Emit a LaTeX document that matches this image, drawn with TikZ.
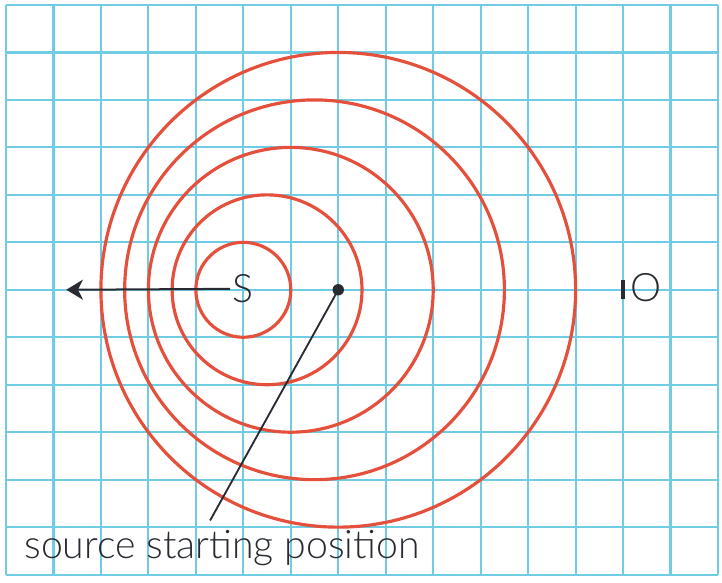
\documentclass[tikz,border=0pt]{standalone}
\usepackage{fontspec}
\setmainfont{Lato}[UprightFont=* Light]
\usetikzlibrary{arrows.meta}
\definecolor{gridblue}{RGB}{112,204,228}
\definecolor{wavered}{RGB}{228,80,60}
\definecolor{inkgray}{RGB}{40,44,50}
\begin{document}
\begin{tikzpicture}[x=1cm,y=1cm,every node/.style={font=\fontsize{23.5}{26}\selectfont,text=inkgray,inner sep=0pt}]
  \useasboundingbox (-0.126,-0.17) rectangle (15.084,12.105);
  \draw[gridblue,line width=1.3pt] (0,0) grid (15,12);
  \draw[wavered,line width=1.9pt] (7,6) circle (5);
  \draw[wavered,line width=1.9pt] (6.5,6) circle (4);
  \draw[wavered,line width=1.9pt] (6,6) circle (3);
  \draw[wavered,line width=1.9pt] (5.5,6) circle (2);
  \draw[wavered,line width=1.9pt] (5,6) circle (1);
  \node (S) at (5,6.02) {S};
  \coordinate (left) at (1.27,6);
  \draw[inkgray,line width=1.2pt,-{Stealth[length=10pt,width=12pt,inset=3pt]}] (S.west) ++(-0.05,0) -- (left);
  \fill[inkgray] (7,6) circle (0.12);
  \coordinate (start) at (7,6);
  \node (O) at (13.48,6.05) {O};
  \draw[inkgray,line width=2pt] (13,5.8) -- (13,6.2);
  \node[anchor=base west] (label) at (0.38,0.33) {source starting position};
  \coordinate (tail) at (4.3,1.14);
  \draw[inkgray,line width=1.1pt] (start) -- (tail);
\end{tikzpicture}
\end{document}
